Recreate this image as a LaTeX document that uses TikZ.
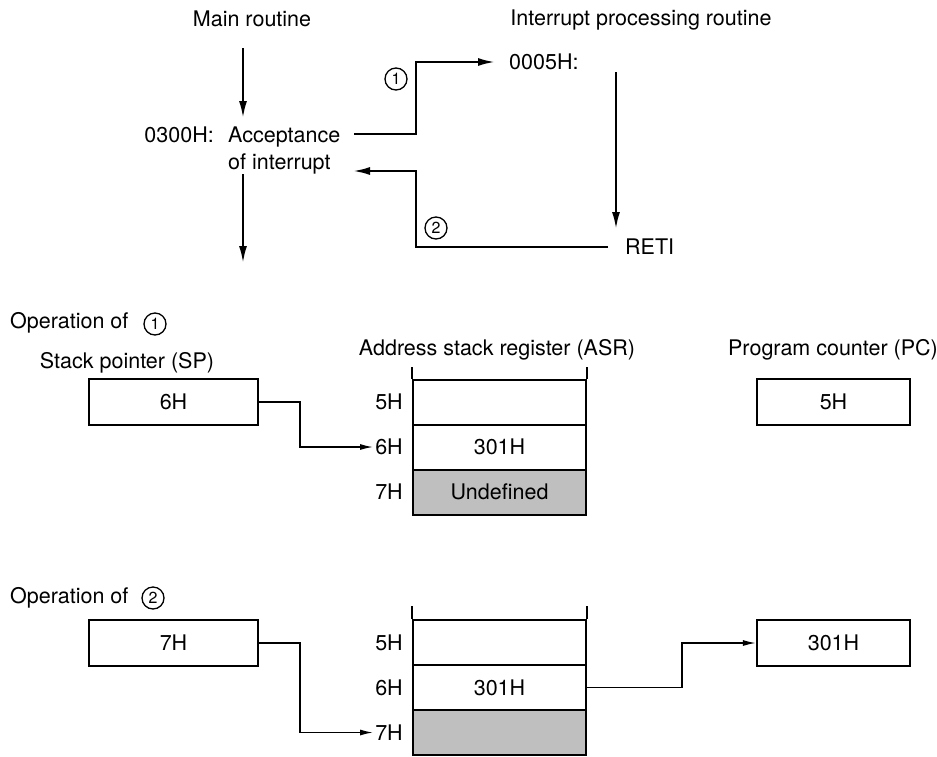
\documentclass[tikz,border=0pt]{standalone}
\usepackage{fontspec}
\setmainfont{TeX Gyre Heros}
\usetikzlibrary{arrows.meta}
\begin{document}
\begin{tikzpicture}[x=1pt,y=-1pt,
  every node/.style={font=\fontsize{21.5}{25}\selectfont, inner sep=2pt},
  thickline/.style={line width=2.2pt},
  thinline/.style={line width=1.4pt},
  bigarrow/.style={thickline,-{Latex[length=17pt,width=8pt]}},
  smallarrow/.style={thinline,-{Latex[length=13pt,width=6pt]}},
  regbox/.style={draw, line width=2.2pt, minimum width=169pt, minimum height=46pt, inner sep=0pt},
  cell/.style={draw, line width=2pt, minimum width=173pt, minimum height=45pt, inner sep=0pt},
  shadedcell/.style={cell, fill=gray!50},
  circnum/.style={circle, draw, line width=1.3pt, minimum size=22pt, inner sep=0pt, font=\fontsize{16}{18}\selectfont}
]
\useasboundingbox (0,0) rectangle (937,756);

% ---------- top flow ----------
\node (main) at (252,19) {Main routine};
\node (intr) at (641,20) {Interrupt processing routine};
\node[anchor=base east] (addr) at (216,142) {0300H:};
\node[anchor=base west] (acc1) at (226,142) {Acceptance};
\node[anchor=base west] (acc2) at (226,169) {of interrupt};
\node[anchor=west] (v5) at (507,62) {0005H:};
\node[anchor=west] (reti) at (623,247) {RETI};
\node[circnum] (c1) at (396,79) {1};
\node[circnum] (c2) at (436,228) {2};

\coordinate (m0) at (243,48);
\coordinate (m1) at (243,118);
\coordinate (m2) at (243,174);
\coordinate (m3) at (243,263);
\draw[bigarrow] (m0) -- (m1);
\draw[bigarrow] (m2) -- (m3);

\coordinate (j1) at (354,134);
\coordinate (j2) at (353,171);
\draw[bigarrow] (j1) -- (416,134) |- ([xshift=-12pt]v5.west);
\draw[thickline] ([xshift=-15pt]reti.west) -- (416,247) -- (416,171) -- (400,171);
\draw[bigarrow] (400,171) -- (j2);

\coordinate (r0) at (616,72);
\coordinate (r1) at (616,229);
\draw[bigarrow] (r0) -- (r1);

% ---------- operation 1 ----------
\node[anchor=west] (op1) at (8,323) {Operation of};
\node[circnum] (c3) at (155,324) {1};
\node (sptitle) at (127,363) {Stack pointer (SP)};
\node[regbox] (sp1) at (173.5,402) {6H};
\node (asrtitle) at (497,350) {Address stack register (ASR)};
\node[cell] (a15) at (499.5,402) {};
\node[cell] (a16) at (499.5,447) {301H};
\node[shadedcell] (a17) at (499.5,492) {Undefined};
\draw[line width=2pt] (a15.north west) -- ++(0,-12);
\draw[line width=2pt] (a15.north east) -- ++(0,-12);
\node (l15) at (389,402) {5H};
\node (l16) at (389,447) {6H};
\node (l17) at (389,492) {7H};
\node (pctitle) at (833,350) {Program counter (PC)};
\node[regbox, minimum width=153pt] (pc1) at (833.5,402) {5H};
\draw[smallarrow] (sp1.east) -- ++(41,0) |- (l16.west);

% ---------- operation 2 ----------
\node[anchor=west] (op2) at (8,598) {Operation of};
\node[circnum] (c4) at (153,598) {2};
\node[regbox] (sp2) at (173.5,643) {7H};
\node[cell] (a25) at (499.5,642.5) {};
\node[cell] (a26) at (499.5,687.5) {301H};
\node[shadedcell] (a27) at (499.5,732.5) {};
\draw[line width=2pt] (a25.north west) -- ++(0,-13);
\draw[line width=2pt] (a25.north east) -- ++(0,-13);
\node (l25) at (389,642.5) {5H};
\node (l26) at (389,687.5) {6H};
\node (l27) at (389,732.5) {7H};
\node[regbox, minimum width=153pt] (pc2) at (833.5,643) {301H};
\draw[smallarrow] (sp2.east) -- ++(41,0) |- (l27.west);
\draw[smallarrow] (a26.east) -- ++(95,0) |- (pc2.west);
\end{tikzpicture}
\end{document}
